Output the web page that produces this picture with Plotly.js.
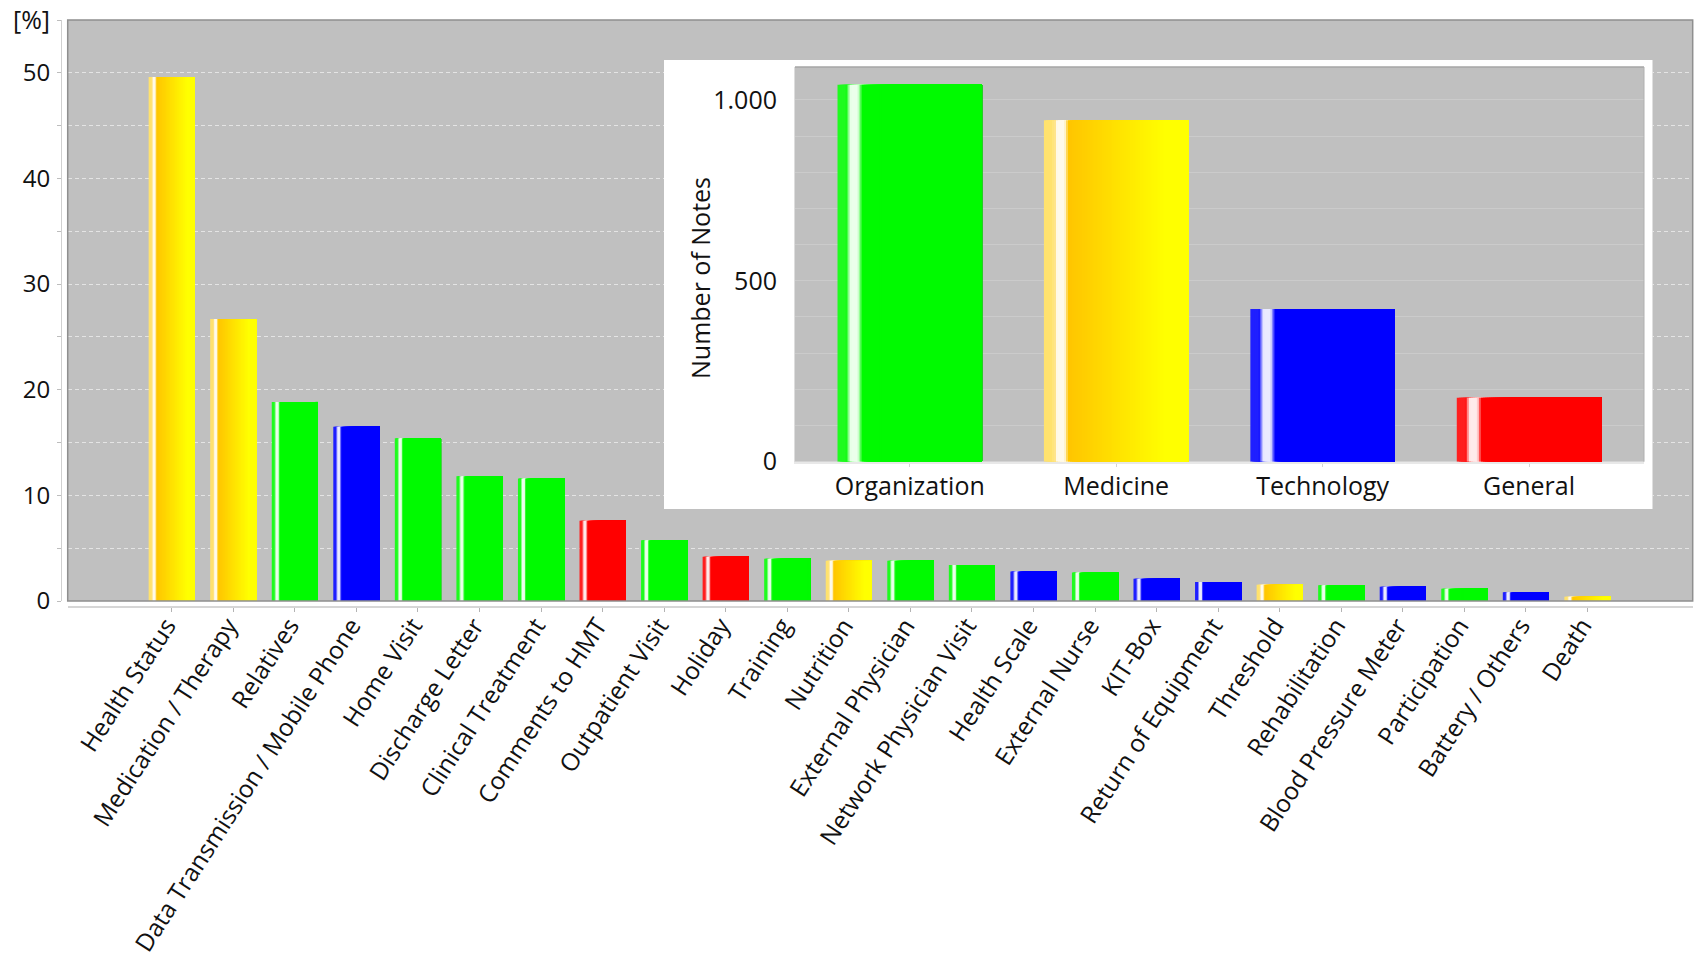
<!DOCTYPE html>
<html>
<head>
<meta charset="utf-8">
<script src="https://cdn.plot.ly/plotly-3.0.1.min.js"></script>
<style>html,body{margin:0;padding:0;background:#fff;}#chart{width:1694px;height:963px;}</style>
</head>
<body>
<div id="chart"></div>
<script>
// ---- data ----
const categories = ['Health Status','Medication / Therapy','Relatives','Data Transmission / Mobile Phone','Home Visit','Discharge Letter','Clinical Treatment','Comments to HMT','Outpatient Visit','Holiday','Training','Nutrition','External Physician','Network Physician Visit','Health Scale','External Nurse','KIT-Box','Return of Equipment','Threshold','Rehabilitation','Blood Pressure Meter','Participation','Battery / Others','Death'];
const percentValues = [49.6,26.7,18.85,16.5,15.4,11.8,11.6,7.6,5.75,4.2,4.0,3.8,3.8,3.4,2.8,2.7,2.1,1.8,1.55,1.5,1.35,1.15,0.82,0.4];
const categoryGroups = ['Medicine','Medicine','Organization','Technology','Organization','Organization','Organization','General','Organization','General','Organization','Medicine','Organization','Organization','Technology','Organization','Technology','Technology','Medicine','Organization','Technology','Organization','Technology','Medicine'];
const insetCategories = ['Organization','Medicine','Technology','General'];
const insetValues = [1042,944,422,177];
const mainTickVals = [0,10,20,30,40,50];
const insetTickVals = [0,500,1000];

// ---- styles ----
const W = 1694, H = 963;
const groupColor = {Organization:[0,250,0], Technology:[0,0,255], General:[255,0,0]};
function mix(a,b,f){return a.map((v,i)=>Math.round(v+(b[i]-v)*f));}
function rgb(c){return 'rgb('+c.join(',')+')';}
function highlight(t){
  const d=Math.abs(t-0.115);
  if(d<=0.022) return 1;
  if(d>=0.06) return 0;
  const u=(0.06-d)/0.038;
  return u*u*(3-2*u);
}
function shade(group,t){
  let base;
  if(group==='Medicine'){
    if(t<0.07) base=[255,226,110];
    else { const f=Math.min(1,Math.max(0,(t-0.16)/0.68)); base=mix([255,196,0],[255,255,0],f); }
  } else {
    base = groupColor[group];
    if(t<0.06) base = mix(base,[255,255,255],0.12);
  }
  return rgb(mix(base,[255,255,255],highlight(t)*0.92));
}

function stripTraces(xs, ys, groups, w, n, xa, ya){
  const out=[];
  for(let i=0;i<n;i++){
    const t=(i+0.5)/n;
    out.push({type:'bar', x:xs, y:ys, xaxis:xa, yaxis:ya,
      width: w*(n-i)/n, offset: -w/2 + i*w/n,
      marker:{color: groups.map(g=>shade(g,t)), line:{width:0}},
      hoverinfo:'x+y', showlegend:false});
  }
  return out;
}

const traces = [];
traces.push(...stripTraces(categories, percentValues, categoryGroups, 0.75, 46, 'x', 'y'));
traces.push({type:'scatter', x:[null], y:[null], xaxis:'x2', yaxis:'y2', hoverinfo:'skip', showlegend:false});
traces.push(...stripTraces(insetCategories, insetValues, insetCategories, 0.70, 72, 'x3', 'y3'));

const mainX = [67.7/W, 1692.7/W];
const mainY = [(H-601)/H, (H-20)/H];
const frameX = [664/W, 1652.7/W];
const frameY = [(H-509)/H, (H-60)/H];
const insetX = [795/W, 1644/W];
const insetY = [(H-461.7)/H, (H-67)/H];

const layout = {
  width:W, height:H, margin:{l:0,r:0,t:0,b:0},
  paper_bgcolor:'#ffffff', plot_bgcolor:'#c0c0c0',
  barmode:'overlay', showlegend:false, separators:',.',
  font:{family:'"Open Sans", sans-serif', color:'#111', size:24},
  xaxis:{domain:mainX, type:'category', range:[-1.69,24.71], anchor:'free', position:(H-606.7)/H,
    showline:true, linecolor:'#d6d6d6', linewidth:2, ticks:'outside', ticklen:4, tickcolor:'#b4b4b4',
    tickangle:-57, tickfont:{size:24.5, color:'#111'}, ticklabelstandoff:-10, ticklabelshift:-5,
    showgrid:false, zeroline:false, fixedrange:true},
  yaxis:{domain:mainY, range:[0,55], anchor:'free', position:61/W,
    showline:true, linecolor:'#d0d0d0', linewidth:1, ticks:'outside', ticklen:4, tickcolor:'#bdbdbd',
    tickvals:mainTickVals, tickfont:{size:24, color:'#111'}, ticklabelstandoff:2,
    showgrid:true, gridcolor:'#e4e4e4', gridwidth:1, griddash:'4px,3px', zeroline:false, fixedrange:true,
    minor:{dtick:5, tick0:0, ticks:'outside', ticklen:4, tickcolor:'#bdbdbd', showgrid:true, gridcolor:'#e4e4e4', gridwidth:1, griddash:'4px,3px'}},
  xaxis2:{domain:frameX, anchor:'y2', range:[0,1], showticklabels:false, showgrid:false, zeroline:false, showline:false, ticks:'', fixedrange:true},
  yaxis2:{domain:frameY, anchor:'x2', range:[0,1], showticklabels:false, showgrid:false, zeroline:false, showline:false, ticks:'', fixedrange:true},
  xaxis3:{domain:insetX, anchor:'y3', type:'category', range:[-0.556,3.557],
    showline:true, linecolor:'#e8e8e8', linewidth:2, ticks:'outside', ticklen:3, tickcolor:'#d4d4d4',
    tickfont:{size:25, color:'#111'}, ticklabelstandoff:-2, showgrid:false, zeroline:false, fixedrange:true},
  yaxis3:{domain:insetY, anchor:'x3', range:[0,1091], tickvals:insetTickVals, separatethousands:true,
    showline:true, linecolor:'#dddddd', linewidth:1, ticks:'', tickfont:{size:25, color:'#111'}, ticklabelstandoff:12,
    showgrid:true, gridcolor:'#cbcbcb', gridwidth:1, zeroline:false, fixedrange:true,
    minor:{dtick:100, tick0:0, showgrid:true, gridcolor:'#cbcbcb', gridwidth:1, ticks:''}},
  shapes:[
    {type:'rect', xref:'x2', yref:'y2', x0:0, x1:1, y0:0, y1:1, fillcolor:'#ffffff', line:{width:0}, layer:'below'},
    {type:'rect', xref:'paper', yref:'paper', x0:mainX[0], x1:mainX[1], y0:mainY[0], y1:mainY[1], fillcolor:'rgba(0,0,0,0)', line:{color:'#8f8f8f', width:1.5}, layer:'above'},
    {type:'line', xref:'x3 domain', yref:'y3 domain', x0:0, x1:1, y0:1, y1:1, line:{color:'#a6a6a6', width:1.5}, layer:'above'},
    {type:'line', xref:'x3 domain', yref:'y3 domain', x0:1, x1:1, y0:0, y1:1, line:{color:'#b0b0b0', width:1}, layer:'above'}
  ],
  annotations:[
    {text:'[%]', xref:'paper', yref:'paper', x:11/W, y:(H-19)/H, xanchor:'left', yanchor:'middle', showarrow:false, font:{size:25, color:'#111'}},
    {text:'Number of Notes', xref:'paper', yref:'paper', x:700/W, y:(H-278)/H, xanchor:'center', yanchor:'middle', textangle:-90, showarrow:false, font:{size:25, color:'#111'}}
  ]
};

Plotly.newPlot('chart', traces, layout, {displayModeBar:false, staticPlot:true});
</script>
</body>
</html>
